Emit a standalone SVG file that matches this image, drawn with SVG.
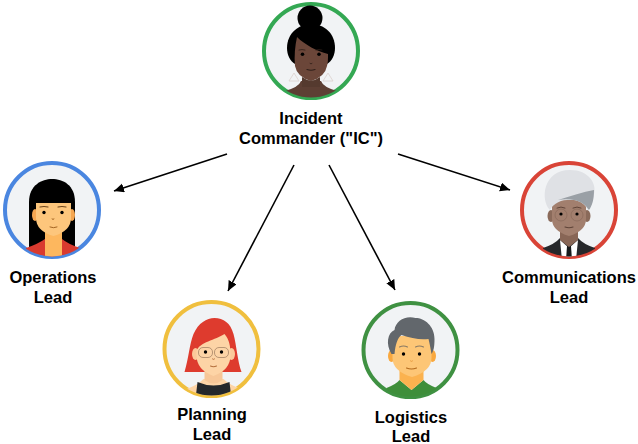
<svg xmlns="http://www.w3.org/2000/svg" width="638" height="444" viewBox="0 0 638 444">
<style>
.ring{fill:#f1f3f5;stroke-width:4}
text{font-family:"Liberation Sans",Arial,sans-serif;font-size:16.500px;font-weight:700;fill:#000;text-anchor:middle}
.c{stroke:#000;stroke-width:1.600;fill:none;marker-end:url(#a)}
.eye{fill:#000}
.f{fill:none;stroke-linecap:round}
</style>
<defs>
<marker id="a" markerUnits="userSpaceOnUse" markerWidth="11" markerHeight="10" refX="10" refY="4.500" orient="auto"><path d="M0 0L10 4.500L0 9Z" fill="#000"/></marker>
<clipPath id="cl"><circle r="46.500"/></clipPath>
</defs>
<rect width="638" height="444" fill="#fff"/>
<g id="connectors">
<line class="c" x1="227" y1="154" x2="114" y2="191"/>
<line class="c" x1="294" y1="165" x2="228" y2="291"/>
<line class="c" x1="329" y1="165" x2="395" y2="290"/>
<line class="c" x1="398" y1="154" x2="510" y2="190"/>
</g>
<g id="ic" transform="translate(311 51)">
<circle class="ring" r="47" stroke="#34a853"/>
<g clip-path="url(#cl)">
<circle cx="-1" cy="-33" r="12.500" fill="#000"/>
<path d="M-26 40Q-12 36-10 30H10Q12 36 26 40V50H-26Z" fill="#5d3f34"/>
<path d="M-17 22L-22 30H-12ZM17 22L12 30H22Z" fill="none" stroke="#dcd0ce" stroke-width=".8"/>
<path d="M-24 -3C-24 -18-12 -27 0 -27C13 -27 24 -18 24 -3C24 4 21 10 16 13H-16C-21 10-24 4-24 -3Z" fill="#000"/>
<path d="M-16 15C-17 5-16 -5-14 -14C-6 -6 6 0 17 3C17 8 17 12 16 15Q14 26 0 30Q-14 26-16 15Z" fill="#6b4639"/>
<path d="M-9 26Q0 33 9 26V36H-9Z" fill="#553a2f"/>
<circle class="eye" cx="-8.500" cy="3.300" r="1.800"/><circle class="eye" cx="8" cy="3.300" r="1.800"/>
<path class="f" d="M-12 -1Q-9 -2-6 -1M5 -1Q8 -2 11 -1M-1 12.500Q0 13.500 1 12.500" stroke="#2f1f19" stroke-width=".8"/>
<path class="f" d="M-4 18.500Q0 20 4 18.500" stroke="#2f1f19" stroke-width="1.200"/>
</g>
</g>
<g id="operations" transform="translate(52 210)">
<circle class="ring" r="47" stroke="#4a86e0"/>
<g clip-path="url(#cl)">
<path d="M-23 -8C-23 -25-10 -31 0 -31C11 -31 23 -25 23 -8V40H-23Z" fill="#000"/>
<path d="M-26 38Q-14 34-7 29H10Q16 34 28 38V50H-26Z" fill="#d93a2f"/>
<path d="M-7 22H10V50H-7Z" fill="#fdb75e"/>
<ellipse cx="-17" cy="5" rx="3" ry="6" fill="#f5a651"/><ellipse cx="20" cy="5" rx="3" ry="6" fill="#f5a651"/>
<path d="M-16 -10H19V8Q19 21 1.500 26Q-16 21-16 8Z" fill="#fdc67c"/>
<path d="M-17 -20H20V-7H-17Z" fill="#000"/>
<circle class="eye" cx="-8" cy="2.500" r="1.700"/><circle class="eye" cx="10" cy="2.500" r="1.700"/>
<path class="f" d="M-12 -3Q-8 -4-4 -3M6 -3Q10 -4 14 -3" stroke="#6a4116" stroke-width="1.100"/>
<path class="f" d="M0 9Q1 10 2 9M-2 17Q1.500 18.500 5 17" stroke="#a36422" stroke-width="1"/>
</g>
</g>
<g id="planning" transform="translate(211.500 349)">
<circle class="ring" r="47" stroke="#f0bf3e"/>
<g clip-path="url(#cl)">
<path d="M-27 23C-23 10-22 -5-18 -15C-13 -26-5 -31 3 -31C12 -31 19 -26 22 -15C25 -4 26 12 30 23Z" fill="#de3b2e"/>
<path d="M-25 40Q-14 36-8 30H12Q18 36 30 40V50H-25Z" fill="#fdd4a6"/>
<path d="M-14 33Q2 40 18 33L20 50H-16Z" fill="#25282b"/>
<path d="M-7 20H11V31Q2 38-7 31Z" fill="#f7c798"/>
<ellipse cx="-16" cy="5" rx="3.500" ry="6" fill="#fbc99b"/><ellipse cx="20" cy="5" rx="3.500" ry="6" fill="#fbc99b"/>
<path d="M-15 2C-12 -7 4 -9 13 -15C18 -9 19 -3 19 6Q19 21 2 27Q-15 21-15 6Z" fill="#fdd4a6"/>
<rect x="-13" y="-1.500" width="14" height="10" rx="4.500" fill="none" stroke="#b08d6e" stroke-width=".9"/><rect x="3" y="-1.500" width="14" height="10" rx="4.500" fill="none" stroke="#b08d6e" stroke-width=".9"/>
<circle class="eye" cx="-6" cy="3" r="1.700"/><circle class="eye" cx="10" cy="3" r="1.700"/>
<path class="f" d="M1 10Q2 11 3 10" stroke="#b5713f" stroke-width="1"/>
<path class="f" d="M-1 17Q2 18.500 5 17" stroke="#b5713f" stroke-width="1.100"/>
</g>
</g>
<g id="logistics" transform="translate(410.500 350)">
<circle class="ring" r="47" stroke="#3f9142"/>
<g clip-path="url(#cl)">
<path d="M-24 38Q-14 34-11 30L1 40L13 30Q16 34 26 38V50H-24Z" fill="#3e8e3a"/>
<path d="M-11 20H13V30L1 40L-11 30Z" fill="#fbb24f"/>
<ellipse cx="-19" cy="6" rx="3.500" ry="6" fill="#f9a83f"/><ellipse cx="22" cy="6" rx="3.500" ry="6" fill="#f9a83f"/>
<path d="M-18 -14H21V8Q21 21 1.500 27Q-18 21-18 8Z" fill="#fdc676"/>
<path d="M-19 4C-25 -6-23 -17-16 -20C-15 -29-5 -35 5 -32C14 -32 24 -24 24 -11C24 -3 23 1 21 4C20 -2 19 -7 18 -11C9 -10 0 -12-9 -15C-13 -12-15 -6-16 4Z" fill="#62676c"/>
<circle class="eye" cx="-7" cy="4" r="1.700"/><circle class="eye" cx="9" cy="4" r="1.700"/>
<path class="f" d="M-11 -3Q-7 -5-3 -3M5 -3Q9 -5 13 -3" stroke="#8a7a64" stroke-width="1.100"/>
<path class="f" d="M0 11Q1 12 2 11" stroke="#e59a3f" stroke-width="1"/>
<path class="f" d="M-4 18Q1 20 6 18" stroke="#b2691c" stroke-width="1.200"/>
</g>
</g>
<g id="communications" transform="translate(569 210)">
<circle class="ring" r="47" stroke="#d94437"/>
<g clip-path="url(#cl)">
<path d="M-26 38Q-14 34-9 28H9Q14 34 26 38V50H-26Z" fill="#26282b"/>
<path d="M-9 30L0 38L9 30L7 50H-7Z" fill="#fff"/>
<path d="M-2 36H2L3 50H-3Z" fill="#17191b"/>
<path d="M-9 20H9V30L0 37L-9 30Z" fill="#886656"/>
<ellipse cx="-18" cy="6" rx="3.500" ry="6" fill="#8a6a5a"/><ellipse cx="18" cy="6" rx="3.500" ry="6" fill="#8a6a5a"/>
<path d="M-17 -10H17V9Q17 21 0 26Q-17 21-17 9Z" fill="#a27f6e"/>
<path d="M-19 0C-29 -10-26 -40 1 -40C20 -40 28 -26 25 -16C24 -8 22 -4 19 0C16 -6 11 -9 5 -10C-5 -11-15 -8-19 0Z" fill="#dfe1e5"/>
<path d="M-11 -10C2 -14 14 -18 25 -20C25 -10 23 -4 20 0C16 -6 11 -9 5 -10C0 -11-6 -11-11 -10Z" fill="#9aa0a6"/>
<circle class="eye" cx="-8" cy="4" r="1.600"/><circle class="eye" cx="8" cy="4" r="1.600"/>
<circle cx="-8" cy="5" r="6" fill="none" stroke="#8a6a5a" stroke-width=".7"/><circle cx="8" cy="5" r="6" fill="none" stroke="#8a6a5a" stroke-width=".7"/>
<path class="f" d="M-12 -2Q-8 -4-4 -2M4 -2Q8 -4 12 -2" stroke="#5f4438" stroke-width="1"/>
<path class="f" d="M-4 17Q0 18.500 4 17" stroke="#5f4438" stroke-width="1.100"/>
</g>
</g>
<g id="labels">
<text x="311" y="124">Incident</text>
<text x="311" y="144">Commander ("IC")</text>
<text x="53" y="283">Operations</text>
<text x="53" y="303">Lead</text>
<text x="212" y="420">Planning</text>
<text x="212" y="440">Lead</text>
<text x="411" y="423">Logistics</text>
<text x="411" y="442">Lead</text>
<text x="569" y="283">Communications</text>
<text x="569" y="303">Lead</text>
</g>
</svg>
